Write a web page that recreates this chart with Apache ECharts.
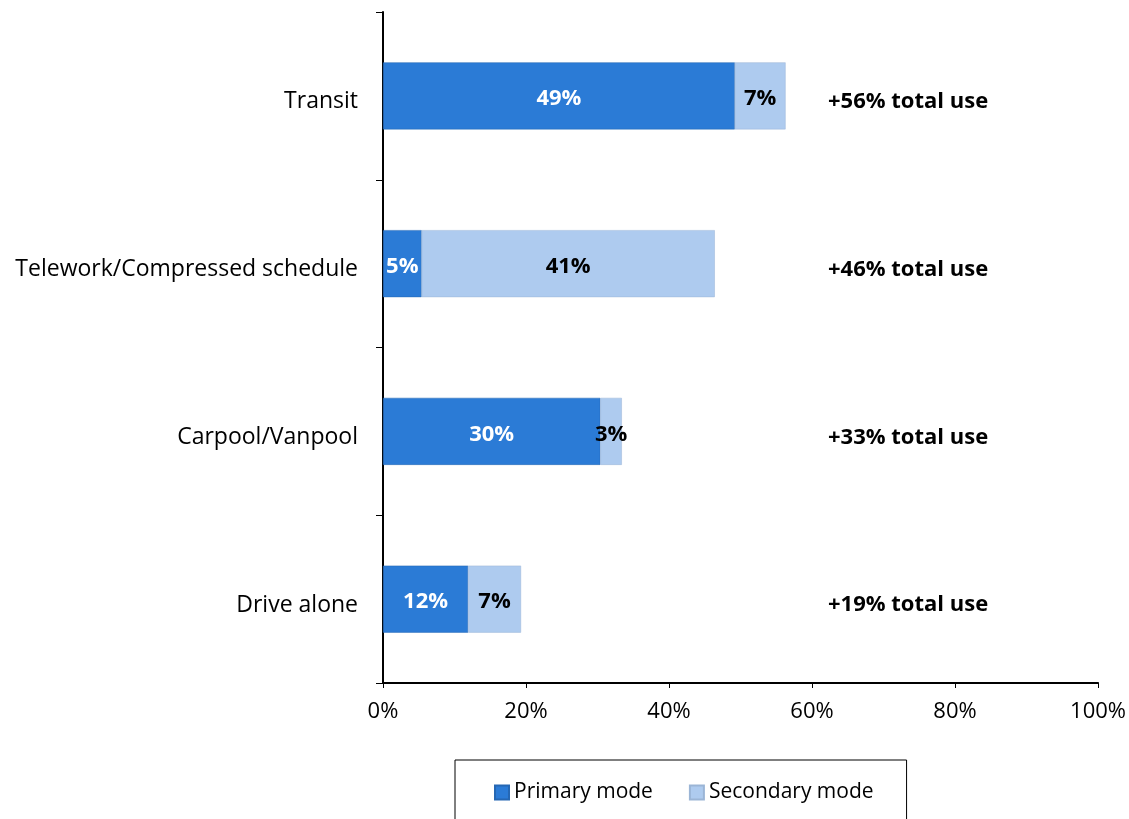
<!DOCTYPE html>
<html>
<head>
<meta charset="utf-8">
<script src="https://cdn.jsdelivr.net/npm/echarts@6/dist/echarts.min.js"></script>
<style>
html,body{margin:0;padding:0;background:#fff;}
#chart{width:1129px;height:819px;}
</style>
</head>
<body>
<div id="chart"></div>
<script>
var categories = ['Drive alone', 'Carpool/Vanpool', 'Telework/Compressed schedule', 'Transit'];
var primaryMode = [11.9, 30.4, 5.4, 49.2];
var secondaryMode = [7.4, 3.0, 41.0, 7.1];
var xTicks = [0, 20, 40, 60, 80, 100];

var FONT = 'Open Sans';
var chart = echarts.init(document.getElementById('chart'));
chart.setOption({
  animation: false,
  textStyle: { fontFamily: FONT },
  grid: { left: 383, right: 30, top: 12, bottom: 136, containLabel: false },
  xAxis: {
    type: 'value', min: xTicks[0], max: xTicks[xTicks.length - 1], interval: 20,
    axisLine: { show: true, lineStyle: { color: '#000', width: 2 } },
    axisTick: { show: true, length: 5, lineStyle: { color: '#000', width: 1 } },
    splitLine: { show: false },
    axisLabel: { formatter: '{value}%', color: '#000', fontSize: 22, fontFamily: FONT, margin: 18 }
  },
  yAxis: [{
    type: 'category', data: categories,
    axisLine: { show: true, lineStyle: { color: '#000', width: 2 } },
    axisTick: { show: true, length: 7, lineStyle: { color: '#000', width: 1 } },
    axisLabel: {
      color: '#000', fontSize: 23, fontFamily: FONT, margin: 25,
      formatter: function (v) { return '{a|' + v + '}'; },
      rich: { a: { color: '#000', fontSize: 23, fontFamily: FONT, padding: [12, 0, 0, 0] } }
    }
  }, {
    type: 'category', data: categories, position: 'right', offset: -270,
    axisLine: { show: false }, axisTick: { show: false },
    axisLabel: {
      color: '#000', fontSize: 22, fontWeight: 'bold', fontFamily: FONT, margin: 0,
      formatter: function (v, i) { return '{b|+' + Math.round(primaryMode[i] + secondaryMode[i]) + '% total use}'; },
      rich: { b: { color: '#000', fontSize: 22, fontWeight: 'bold', fontFamily: FONT, padding: [12, 0, 0, 0] } }
    }
  }],
  legend: {
    left: 455, top: 760,
    padding: [22, 33, 40, 39],
    borderColor: '#000', borderWidth: 1,
    itemWidth: 14, itemHeight: 14, itemGap: 36,
    icon: 'rect',
    textStyle: { color: '#000', fontSize: 21, fontFamily: FONT },
    data: ['Primary mode', 'Secondary mode']
  },
  series: [{
    name: 'Primary mode', type: 'bar', stack: 'a', data: primaryMode,
    barWidth: 67,
    itemStyle: { color: '#2b7bd6', borderColor: '#2567b3', borderWidth: 0.5 },
    label: { show: true, position: 'inside', offset: [0, 3], color: '#fff', fontWeight: 'bold', fontSize: 22, fontFamily: FONT,
      formatter: function (p) { return Math.round(p.value) + '%'; } }
  }, {
    name: 'Secondary mode', type: 'bar', stack: 'a', data: secondaryMode,
    barWidth: 67,
    itemStyle: { color: '#aecbef', borderColor: '#9bb5d6', borderWidth: 0.5 },
    label: { show: true, position: 'inside', offset: [0, 3], color: '#000', fontWeight: 'bold', fontSize: 22, fontFamily: FONT,
      formatter: function (p) { return Math.round(p.value) + '%'; } }
  }]
});
</script>
</body>
</html>
